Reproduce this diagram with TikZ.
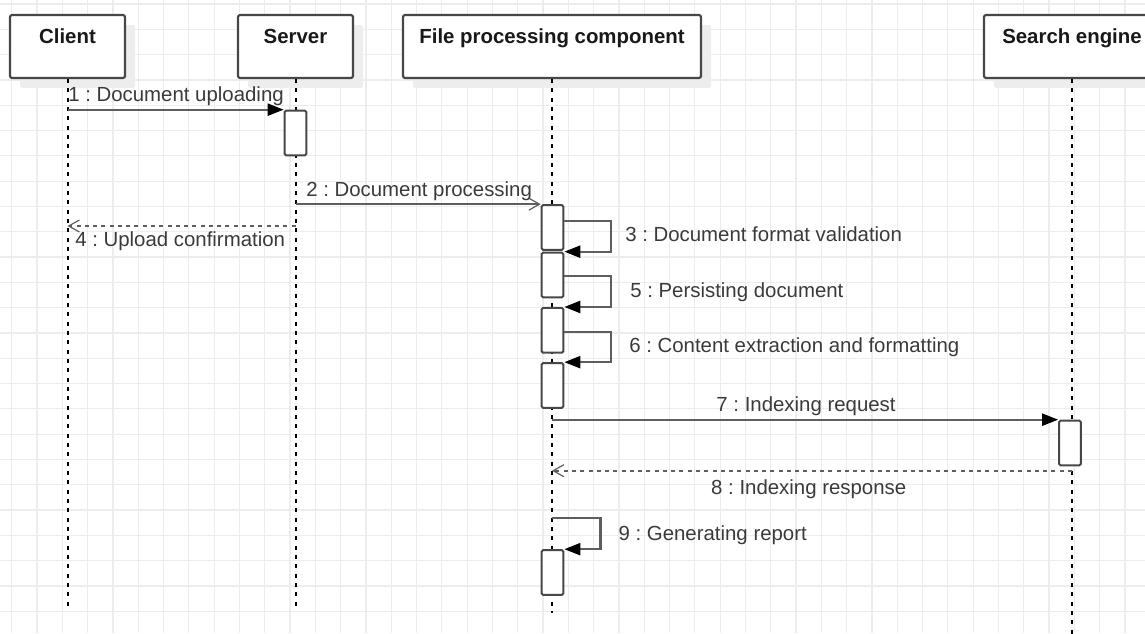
\documentclass[tikz,border=0pt]{standalone}
\usepackage{fontspec}
\setmainfont{Liberation Sans}
\usetikzlibrary{arrows.meta,shadows}
\definecolor{boxgray}{HTML}{474747}
\definecolor{msggray}{HTML}{5E5E5E}
\definecolor{txtgray}{HTML}{3A3A3A}
\definecolor{gridgray}{HTML}{EDEDED}
\newcommand\diafont{\fontsize{15.3pt}{18pt}\selectfont\frenchspacing}
\tikzset{
  gridline/.style={draw=gridgray,line width=0.9pt},
  head/.style={draw=boxgray,line width=1.6pt,fill=white,rounded corners=1.5pt,
    drop shadow={shadow xshift=7.5pt,shadow yshift=-7.5pt,fill=black!7,opacity=1},
    inner ysep=0pt,text height=21.2pt,text depth=26pt,font=\diafont\bfseries,text=black!90},
  lifeline/.style={draw=black,line width=1.5pt,dash pattern=on 3pt off 4pt},
  act/.style={draw=boxgray,line width=1.5pt,fill=white,rounded corners=1pt,
    minimum width=16.2pt,minimum height=33.5pt,inner sep=0pt},
  call/.style={draw=msggray,line width=1.6pt,-{Triangle[length=12pt,width=9pt,color=black]}},
  send/.style={draw=msggray,line width=1.6pt,-{Straight Barb[length=8pt,width=9pt,line width=0.9pt]}},
  reply/.style={send,dash pattern=on 3pt off 3.2pt},
  lbl/.style={inner sep=0pt,text=txtgray,font=\diafont}
}
\begin{document}
\begin{tikzpicture}[x=0.75pt,y=-0.75pt]
\useasboundingbox (0,0) rectangle (1145,633);
\clip (0,0) rectangle (1145,633);
% background grid
\foreach \x in {0,...,44} \draw[gridline] (11.7+25.3*\x,0) -- ++(0,633);
\foreach \y in {0,...,24} \draw[gridline] (0,4+25.3*\y) -- ++(1145,0);
% lifeline heads
\foreach \n/\x/\w/\t in {C/67.5/115/Client,S/295.5/115/Server,F/552/298/File processing component,E/1072/176/Search engine} {
  \node[head,minimum width={0.75pt*\w}] (\n) at (\x,46.5) {\t};
}
\foreach \n/\e in {C/607,S/607,F/613,E/640} \draw[lifeline] (\n.south) -- (\n.south |- 0,\e);
% activations
\foreach \n/\x/\y in {a1/295.5/133,f1/552.5/227.5,f2/552.5/275,f3/552.5/330.3,f4/552.5/385.5,e1/1070/443,f5/552.5/572.5}
  \node[act] (\n) at (\x,\y) {};
% messages
\draw[call] (C |- a1.north) -- (a1.north west);
\draw[send] (S |- f1.north) -- (f1.north west);
\draw[call] (f1.north east) ++(0,16.7) -- ++(46.7,0) |- (f2.north east);
\draw[reply] (S |- 0,226) -- (C |- 0,226);
\draw[call] (f2.north east) ++(0,24) -- ++(46.7,0) |- (f3.north east);
\draw[call] (f3.north east) ++(0,24.7) -- ++(46.7,0) |- (f4.north east);
\draw[call] (F |- e1.north) -- (e1.north west);
\draw[reply] (E |- 0,470.7) -- (F |- 0,470.7);
\draw[call] (F |- 0,518.3) -- ++(48.5,0) |- (f5.north east);
% labels
\node[lbl,anchor=base west] (m1) at (68,101.7) {1 : Document uploading};
\node[lbl,anchor=base west] (m2) at (306,196.7) {2 : Document processing};
\node[lbl,anchor=base west] (m3) at (625,241.7) {3 : Document format validation};
\node[lbl,anchor=base west] (m4) at (75,246.7) {4 : Upload confirmation};
\node[lbl,anchor=base west] (m5) at (630,297.3) {5 : Persisting document};
\node[lbl,anchor=base west] (m6) at (629,352.7) {6 : Content extraction and formatting};
\node[lbl,anchor=base] (m7) at (806,411.7) {7 : Indexing request};
\node[lbl,anchor=base] (m8) at (808.7,494.3) {8 : Indexing response};
\node[lbl,anchor=base west] (m9) at (618.3,540) {9 : Generating report};
\end{tikzpicture}
\end{document}
